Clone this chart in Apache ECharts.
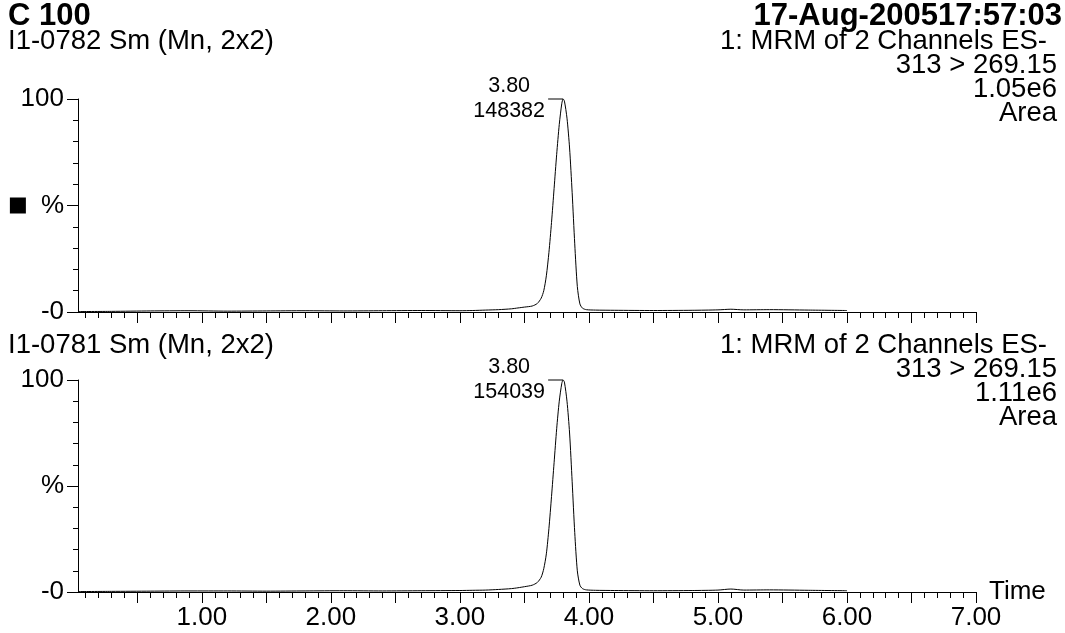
<!DOCTYPE html>
<html>
<head>
<meta charset="utf-8">
<script src="https://cdn.jsdelivr.net/npm/echarts@6/dist/echarts.min.js"></script>
<style>
  html, body { margin: 0; padding: 0; background: #fff; }
  #chart { width: 1065px; height: 633px; }
</style>
</head>
<body>
<div id="chart"></div>
<script>
// Header texts
const runTitle = 'C 100';
const runStamp = '17-Aug-200517:57:03';

// Trace descriptions (top and bottom)
const traceNames = ['I1-0782 Sm (Mn, 2x2)', 'I1-0781 Sm (Mn, 2x2)'];
const traceFunction = '1: MRM of 2 Channels ES-';
const traceTransition = '313 > 269.15';
const traceScale = ['1.05e6', '1.11e6'];
const traceMode = 'Area';

// Peak annotations: retention time and apex intensity (counts)
const peakTimes = [3.80, 3.80];
const peakHeights = [148382, 154039];

// Tick values
const xMajorTicks = [0.5, 1.0, 1.5, 2.0, 2.5, 3.0, 3.5, 4.0, 4.5, 5.0, 5.5, 6.0, 6.5, 7.0];
const xLabelTicks = [1.0, 2.0, 3.0, 4.0, 5.0, 6.0, 7.0];
const xMinorTicks = [
  0.1, 0.2, 0.3, 0.4, 0.5, 0.6, 0.7, 0.8, 0.9, 1.0,
  1.1, 1.2, 1.3, 1.4, 1.5, 1.6, 1.7, 1.8, 1.9, 2.0,
  2.1, 2.2, 2.3, 2.4, 2.5, 2.6, 2.7, 2.8, 2.9, 3.0,
  3.1, 3.2, 3.3, 3.4, 3.5, 3.6, 3.7, 3.8, 3.9, 4.0,
  4.1, 4.2, 4.3, 4.4, 4.5, 4.6, 4.7, 4.8, 4.9, 5.0,
  5.1, 5.2, 5.3, 5.4, 5.5, 5.6, 5.7, 5.8, 5.9, 6.0,
  6.1, 6.2, 6.3, 6.4, 6.5, 6.6, 6.7, 6.8, 6.9, 7.0
];

// Chromatogram traces: time (min) and relative intensity (%)
const timeTop = [
  0.04, 0.30, 0.60, 0.90, 1.20, 1.50, 1.80, 2.10, 2.40, 2.70, 3.00, 3.10, 3.20, 3.30,
  3.40, 3.45, 3.50, 3.56, 3.60, 3.63, 3.65, 3.67, 3.69, 3.71, 3.73, 3.75, 3.77, 3.79,
  3.80, 3.81, 3.83, 3.85, 3.87, 3.89, 3.91, 3.93, 3.95, 3.98, 4.05, 4.20, 4.50, 4.80,
  5.00, 5.10, 5.20, 5.40, 5.70, 6.00
];
const intTop = [
  0.2, 0.3, 0.5, 0.6, 0.4, 0.5, 0.6, 0.5, 0.6, 0.7, 0.6, 0.7, 0.9, 1.1,
  1.5, 1.9, 2.3, 2.8, 4.0, 6.5, 10, 17, 28, 42, 58, 74, 88, 98,
  100, 99, 91, 77, 56, 32, 12, 3.8, 1.8, 1.1, 0.9, 0.8, 0.7, 0.8,
  1.0, 1.3, 1.0, 1.1, 0.9, 0.7
];
const timeBottom = [
  0.04, 0.30, 0.60, 0.90, 1.20, 1.50, 1.80, 2.10, 2.40, 2.70, 3.00, 3.10, 3.20, 3.30,
  3.40, 3.45, 3.50, 3.56, 3.60, 3.63, 3.65, 3.67, 3.69, 3.71, 3.73, 3.75, 3.77, 3.79,
  3.80, 3.81, 3.83, 3.85, 3.87, 3.89, 3.91, 3.93, 3.95, 3.98, 4.05, 4.20, 4.50, 4.80,
  5.00, 5.10, 5.20, 5.40, 5.70, 6.00
];
const intBottom = [
  0.2, 0.3, 0.4, 0.5, 0.5, 0.4, 0.5, 0.6, 0.5, 0.6, 0.7, 0.8, 0.9, 1.2,
  1.6, 2.0, 2.5, 3.2, 4.5, 7, 11, 18, 30, 45, 61, 77, 90, 98.5,
  100, 99, 90, 75, 52, 28, 10, 3.2, 1.6, 1.0, 0.8, 0.7, 0.6, 0.7,
  0.9, 1.4, 0.9, 1.0, 0.8, 0.6
];

const FONT = '"Liberation Sans", Arial, Helvetica, sans-serif';
const X_MIN = 0.04, X_MAX = 7.0;

function pairs(ts, vs) { return ts.map((t, i) => [t, vs[i]]); }

const chart = echarts.init(document.getElementById('chart'), null, { renderer: 'canvas' });

const grids = [
  { left: 78, right: 89, top: 99, height: 213 },
  { left: 78, right: 89, top: 380, height: 212 }
];

const xAxes = [];
const yAxes = [];
[0, 1].forEach(g => {
  const isBottom = g === 1;
  // minor ticks every 0.1 min
  xAxes.push({
    type: 'value', gridIndex: g, min: X_MIN, max: X_MAX, position: 'bottom',
    axisLine: { show: false },
    axisTick: { show: true, length: 6, customValues: xMinorTicks, lineStyle: { color: '#000', width: 1 } },
    axisLabel: { show: false },
    splitLine: { show: false }
  });
  // axis line, major ticks every 0.5 min, labels on whole minutes
  xAxes.push({
    type: 'value', gridIndex: g, min: X_MIN, max: X_MAX, position: 'bottom',
    name: isBottom ? 'Time' : '',
    nameLocation: 'end', nameGap: 13,
    nameTextStyle: { fontFamily: FONT, fontSize: 26, color: '#000' },
    axisLine: { show: true, lineStyle: { color: '#000', width: 1 } },
    axisTick: { show: true, length: 11, customValues: xMajorTicks, lineStyle: { color: '#000', width: 1 } },
    axisLabel: {
      show: isBottom, customValues: xLabelTicks, margin: 13,
      fontFamily: FONT, fontSize: 26, color: '#000',
      formatter: v => v.toFixed(2)
    },
    splitLine: { show: false }
  });
  yAxes.push({
    type: 'value', gridIndex: g, min: 0, max: 100, interval: 50,
    axisLine: { show: true, lineStyle: { color: '#000', width: 1 } },
    axisTick: { show: true, length: 11, lineStyle: { color: '#000', width: 1 } },
    minorTick: { show: true, splitNumber: 5, length: 5, lineStyle: { color: '#000', width: 1 } },
    splitLine: { show: false },
    minorSplitLine: { show: false },
    axisLabel: {
      margin: 14, fontFamily: FONT, fontSize: 26, color: '#000',
      formatter: v => v === 100 ? '100' : v === 50 ? (g === 0 ? '{sq|}{gap|}%' : '%') : '-0',
      rich: {
        sq: { width: 16, height: 16, backgroundColor: '#000' },
        gap: { width: 15 }
      }
    }
  });
});

function traceSeries(g, ts, vs) {
  const apexIdx = ts.indexOf(peakTimes[g]);
  return {
    type: 'line',
    xAxisIndex: g * 2 + 1, yAxisIndex: g,
    data: pairs(ts, vs),
    showSymbol: false, symbol: 'none',
    smooth: 0.25,
    lineStyle: { color: '#000', width: 1 },
    silent: true, animation: false,
    markPoint: {
      animation: false,
      symbol: 'rect', symbolSize: [15, 1], symbolOffset: [-7.5, 0],
      itemStyle: { color: '#000' },
      label: {
        show: true, position: 'left', distance: 2,
        formatter: p => '{a|' + ts[apexIdx].toFixed(2) + '}\n{a|' + peakHeights[g] + '}',
        rich: { a: { fontFamily: FONT, fontSize: 21.5, color: '#000', width: 74, align: 'center', lineHeight: 25 } }
      },
      data: [{ coord: [ts[apexIdx], vs[apexIdx]] }]
    }
  };
}

const textStyle = (size, weight) => ({ fontFamily: FONT, fontSize: size, fontWeight: weight || 'normal', fill: '#000' });

const graphics = [
  { type: 'text', left: 8, top: 1, style: Object.assign({ text: runTitle }, textStyle(31, 'bold')) },
  { type: 'text', right: 3, top: 1, style: Object.assign({ text: runStamp, textAlign: 'right' }, textStyle(31, 'bold')) }
];
const blockTops = [27, 331];
[0, 1].forEach(g => {
  const t = blockTops[g];
  graphics.push({ type: 'text', left: 8, top: t, style: Object.assign({ text: traceNames[g] }, textStyle(27.5)) });
  graphics.push({ type: 'text', right: 18, top: t, style: Object.assign({ text: traceFunction, textAlign: 'right' }, textStyle(27.5)) });
  graphics.push({ type: 'text', right: 8, top: t + 24, style: Object.assign({ text: traceTransition, textAlign: 'right' }, textStyle(27.5)) });
  graphics.push({ type: 'text', right: 8, top: t + 48, style: Object.assign({ text: traceScale[g], textAlign: 'right' }, textStyle(27.5)) });
  graphics.push({ type: 'text', right: 8, top: t + 72, style: Object.assign({ text: traceMode, textAlign: 'right' }, textStyle(27.5)) });
});

chart.setOption({
  animation: false,
  backgroundColor: '#fff',
  grid: grids,
  xAxis: xAxes,
  yAxis: yAxes,
  series: [traceSeries(0, timeTop, intTop), traceSeries(1, timeBottom, intBottom)],
  graphic: graphics
});
</script>
</body>
</html>
